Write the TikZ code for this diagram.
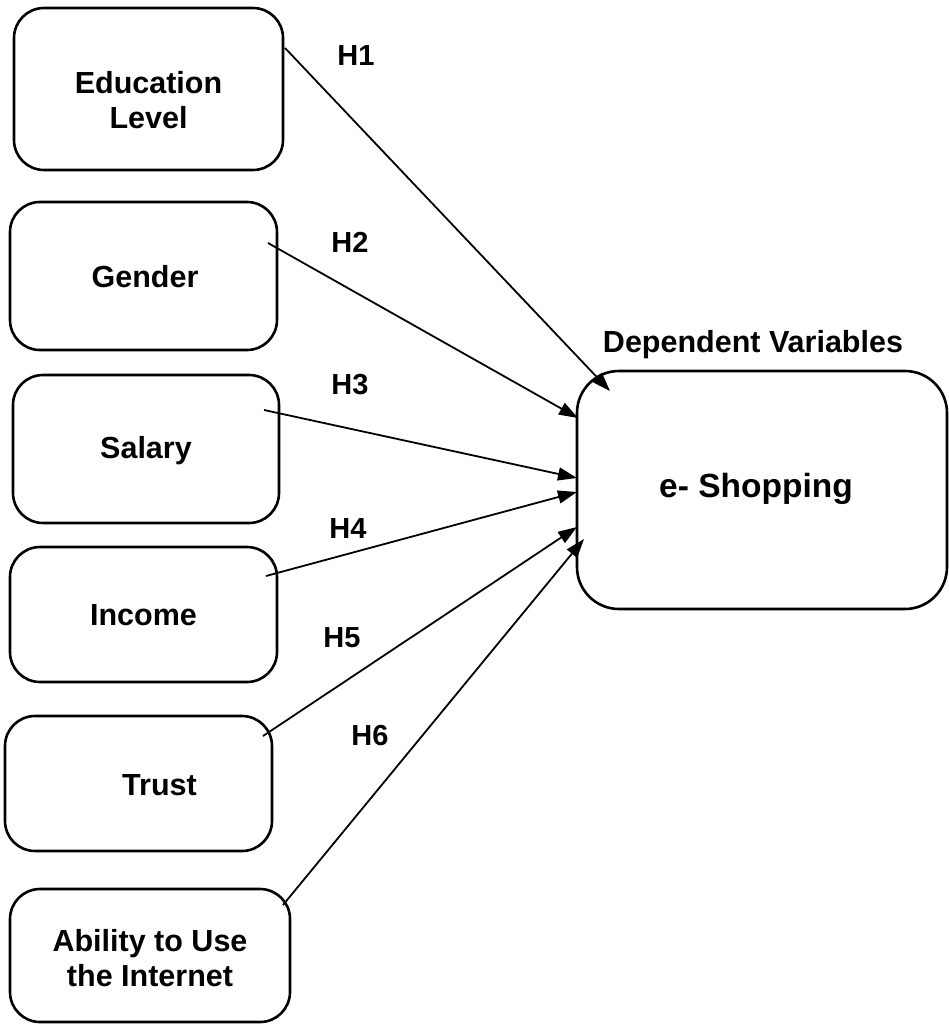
\documentclass[tikz,border=0pt]{standalone}
\usepackage{fontspec}
\setmainfont{Liberation Sans}
\usetikzlibrary{arrows.meta}
\begin{document}
\begin{tikzpicture}[x=1pt,y=-1pt,
  box/.style={draw=black,line width=2.6pt,rounded corners=30pt,inner sep=0pt},
  lbl/.style={font=\fontsize{30.5}{35}\selectfont\bfseries,align=center,inner sep=0pt},
  hl/.style={font=\fontsize{29}{32}\selectfont\bfseries,inner sep=0pt},
  arr/.style={line width=1.8pt,-{Triangle[length=19pt,width=13pt]}}]
\useasboundingbox (0,0) rectangle (949,1024);
% boxes
\node[box,minimum width=269pt,minimum height=162pt] (edu) at (148.5,89) {};
\node[box,minimum width=267pt,minimum height=148pt] (gen) at (143.5,276) {};
\node[box,minimum width=266pt,minimum height=148pt] (sal) at (146,449) {};
\node[box,minimum width=267pt,minimum height=135pt] (inc) at (143.5,614.5) {};
\node[box,minimum width=267pt,minimum height=135pt] (tru) at (138.5,783.5) {};
\node[box,minimum width=280pt,minimum height=133pt] (abi) at (150,955.5) {};
\node[box,rounded corners=42pt,minimum width=370pt,minimum height=238pt] (shop) at (762,490) {};
% texts
\node[lbl] (tedu) at (148.5,100) {Education\\Level};
\node[lbl] (tgen) at (145,277) {Gender};
\node[lbl] (tsal) at (146,451) {Salary};
\node[lbl] (tinc) at (143.5,615) {Income};
\node[lbl] (ttru) at (159.5,785) {Trust};
\node[lbl] (tabi) at (150,958) {Ability to Use\\the Internet};
\node[font=\fontsize{33.5}{38}\selectfont\bfseries,inner sep=0pt] (tshop) at (756,489) {e- Shopping};
\node[lbl] (tdep) at (753,345) {Dependent Variables};
% hypothesis labels
\node[hl] (h1) at (356,56) {H1};
\node[hl] (h2) at (350,242) {H2};
\node[hl] (h3) at (350,385) {H3};
\node[hl] (h4) at (348,529) {H4};
\node[hl] (h5) at (342,638) {H5};
\node[hl] (h6) at (370,736) {H6};
% connector points
\coordinate (s1) at (285,48);
\coordinate (s2) at (268,243);
\coordinate (s3) at (264,410);
\coordinate (s4) at (266,576);
\coordinate (s5) at (263,736);
\coordinate (s6) at (283,905);
\coordinate (e1) at (610,391);
\coordinate (e2) at (578,418);
\coordinate (e3) at (577,478);
\coordinate (e4) at (577,492);
\coordinate (e5) at (577,527);
\coordinate (e6) at (584,539);
\draw[arr] (s1) -- (e1);
\draw[arr] (s2) -- (e2);
\draw[arr] (s3) -- (e3);
\draw[arr] (s4) -- (e4);
\draw[arr] (s5) -- (e5);
\draw[arr] (s6) -- (e6);
\end{tikzpicture}
\end{document}
